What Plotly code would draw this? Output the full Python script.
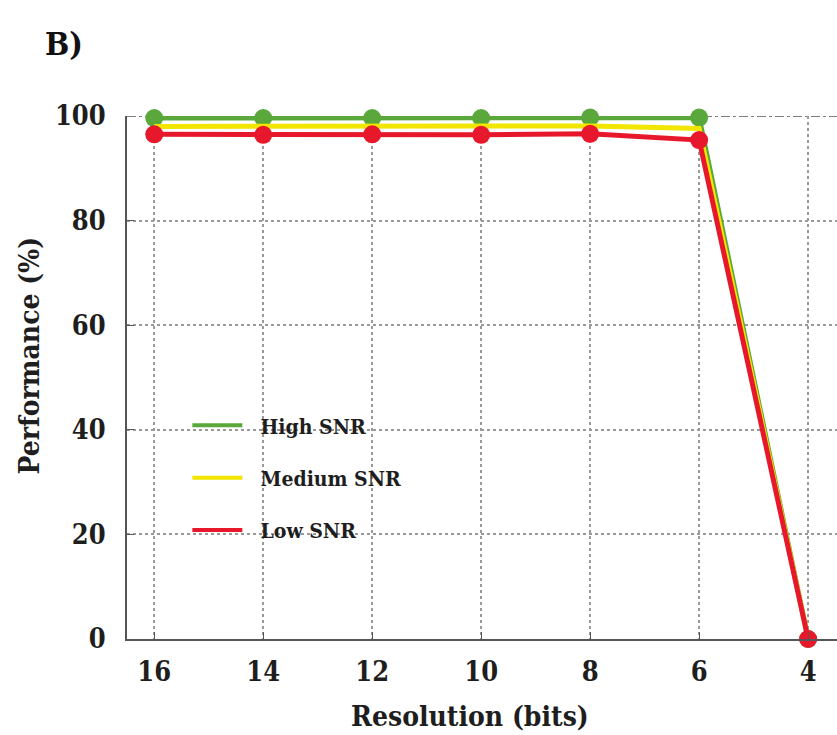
import plotly.graph_objects as go

# Quantizer resolution (bits) and classification performance (%)
resolution_bits = [16, 14, 12, 10, 8, 6, 4]
high_snr = [99.6, 99.6, 99.6, 99.6, 99.7, 99.7, 0]
medium_snr = [98.0, 98.0, 98.0, 98.0, 98.1, 97.6, 0]
low_snr = [96.5, 96.4, 96.5, 96.4, 96.6, 95.4, 0]

series_names = ["High SNR", "Medium SNR", "Low SNR"]
series_colors = ["#5aa83c", "#f2e600", "#e8182c"]
y_ticks = [0, 20, 40, 60, 80, 100]

FONT = "DejaVu Serif Condensed, DejaVu Serif"
TEXT = "#1e1e1e"

fig = go.Figure()

for name, vals, col, show_markers in zip(
    series_names, [high_snr, medium_snr, low_snr], series_colors, [True, False, True]
):
    fig.add_trace(go.Scatter(
        x=resolution_bits, y=vals, name=name,
        mode="lines+markers" if show_markers else "lines",
        line=dict(color=col, width=5),
        marker=dict(color=col, size=18),
        cliponaxis=False, showlegend=False,
    ))

# legend entries drawn as plain line samples
for i, (name, col) in enumerate(zip(series_names, series_colors)):
    fig.add_trace(go.Scatter(
        x=[None], y=[None], name="\u00a0\u00a0" + name, mode="lines",
        line=dict(color=col, width=4), legendgroup=f"g{i}",
    ))

# dash-dot border along the top of the plotting area
fig.add_shape(type="line", xref="paper", yref="y", x0=0, x1=1, y0=100, y1=100,
              line=dict(color="#555555", width=1.5, dash="dashdot"), layer="below")

title_font = dict(family=FONT, size=28, color=TEXT)

fig.update_layout(
    width=837, height=735,
    margin=dict(l=127, r=0, t=116, b=96),
    paper_bgcolor="white", plot_bgcolor="white",
    font=dict(family=FONT, color=TEXT),
    legend=dict(
        x=0.085, y=0.447, xanchor="left", yanchor="top",
        bgcolor="rgba(0,0,0,0)", tracegroupgap=22, itemwidth=50,
        font=dict(family=FONT, size=21, color=TEXT, weight="bold"),
    ),
    annotations=[
        dict(text="<b>B)</b>", xref="paper", yref="paper", x=-0.118, y=1.137,
             xanchor="left", yanchor="middle", showarrow=False,
             font=dict(family=FONT, size=32, color="#111111")),
        dict(text="<b>Resolution (bits)</b>", xref="paper", yref="paper",
             x=0.483, y=-0.149, xanchor="center", yanchor="middle",
             showarrow=False, font=title_font),
        dict(text="<b>Performance (%)</b>", xref="paper", yref="paper",
             x=-0.1366, y=0.542, xanchor="center", yanchor="middle",
             textangle=-90, showarrow=False, font=title_font),
    ],
)

fig.update_xaxes(
    range=[16.5, 3.47], tickvals=resolution_bits,
    ticktext=[str(v) for v in resolution_bits],
    showgrid=True, gridcolor="#999999", griddash="dot", gridwidth=1.5,
    showline=True, linecolor="#555555", linewidth=2,
    ticks="inside", ticklen=7, tickcolor="#555555",
    ticklabelstandoff=8,
    tickfont=dict(family=FONT, size=27, color=TEXT, weight="bold"),
    zeroline=False,
)

fig.update_yaxes(
    range=[0, 100], tickvals=y_ticks,
    showgrid=True, gridcolor="#999999", griddash="dot", gridwidth=1.5,
    showline=True, linecolor="#555555", linewidth=2,
    ticks="inside", ticklen=7, tickcolor="#555555",
    ticklabelstandoff=14,
    tickfont=dict(family=FONT, size=27, color=TEXT, weight="bold"),
    zeroline=False,
)

fig.write_html("out.html")
